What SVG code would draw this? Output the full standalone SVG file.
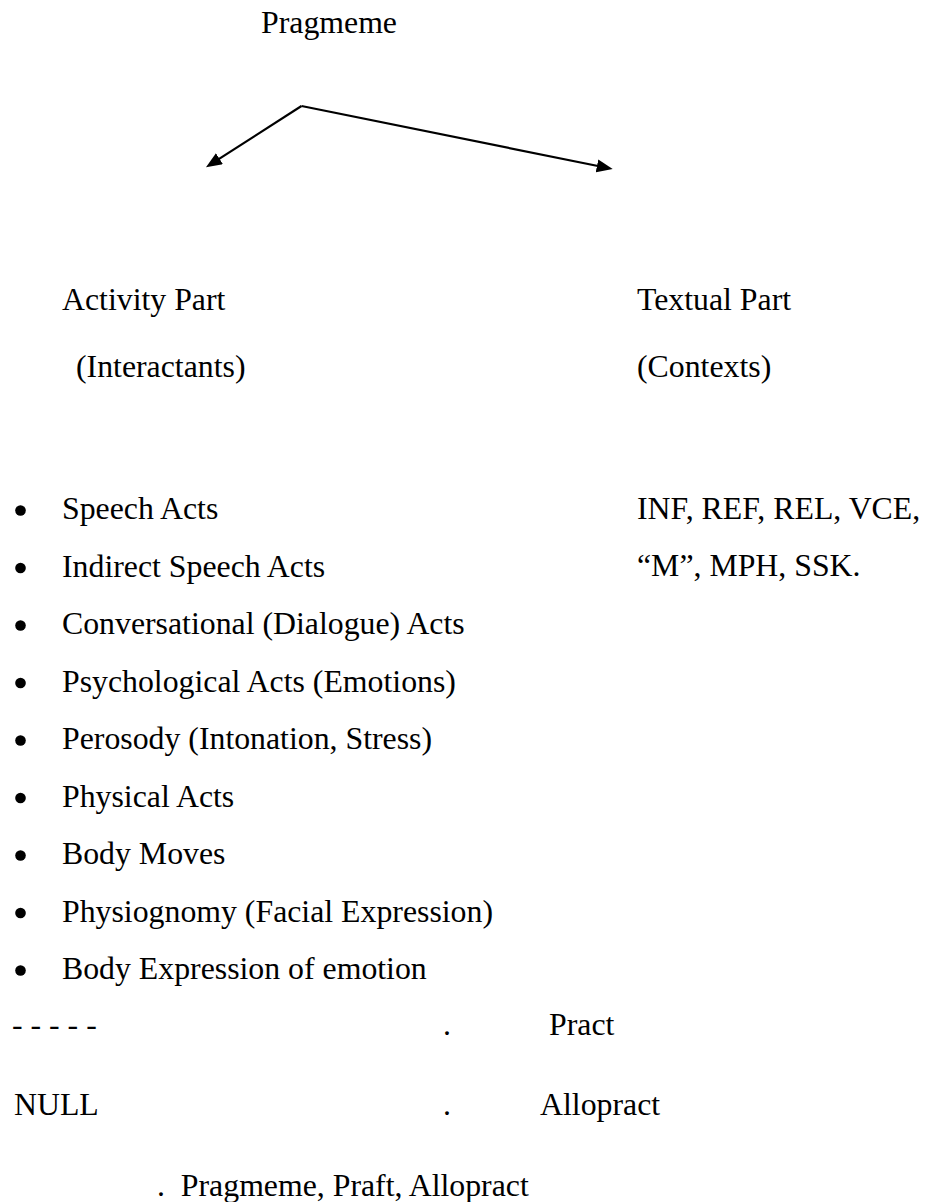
<svg xmlns="http://www.w3.org/2000/svg" width="928" height="1202" viewBox="0 0 928 1202">
<style>
text{font-family:"Liberation Serif","Times New Roman",serif;font-size:31.8px;fill:#000}
.c{stroke:#000;stroke-width:2.2;fill:none}
.b{fill:#000}
</style>
<defs>
<marker id="ah" markerUnits="userSpaceOnUse" markerWidth="18" markerHeight="14" refX="6" refY="6.5" orient="auto">
<path d="M0,0 L16,6.5 L0,13 z" fill="#000"/>
</marker>
</defs>
<rect width="928" height="1202" fill="#fff"/>
<g id="connectors">
<path class="c" d="M301.5,106 L214.4,161.9" marker-end="url(#ah)"/>
<path class="c" d="M301.5,106 L602.9,167" marker-end="url(#ah)"/>
</g>
<g id="pragmeme"><text x="261" y="33">Pragmeme</text></g>
<g id="activity-part">
<text x="62" y="310">Activity Part</text>
<text x="76" y="377">(Interactants)</text>
</g>
<g id="textual-part">
<text x="637" y="310">Textual Part</text>
<text x="637" y="377">(Contexts)</text>
</g>
<g id="activity-list">
<circle class="b" cx="20.5" cy="510.5" r="5.3"/><text x="62" y="519">Speech Acts</text>
<circle class="b" cx="20.5" cy="568" r="5.3"/><text x="62" y="576.5">Indirect Speech Acts</text>
<circle class="b" cx="20.5" cy="625.5" r="5.3"/><text x="62" y="634">Conversational (Dialogue) Acts</text>
<circle class="b" cx="20.5" cy="683" r="5.3"/><text x="62" y="691.5">Psychological Acts (Emotions)</text>
<circle class="b" cx="20.5" cy="740.5" r="5.3"/><text x="62" y="749">Perosody (Intonation, Stress)</text>
<circle class="b" cx="20.5" cy="798" r="5.3"/><text x="62" y="806.5">Physical Acts</text>
<circle class="b" cx="20.5" cy="855.5" r="5.3"/><text x="62" y="864">Body Moves</text>
<circle class="b" cx="20.5" cy="913" r="5.3"/><text x="62" y="921.5">Physiognomy (Facial Expression)</text>
<circle class="b" cx="20.5" cy="970.5" r="5.3"/><text x="62" y="979">Body Expression of emotion</text>
</g>
<g id="textual-list">
<text x="637" y="519">INF, REF, REL, VCE,</text>
<text x="637" y="575.5">“M”, MPH, SSK.</text>
</g>
<g id="pract">
<text x="12" y="1035">- - - - -</text>
<text x="443" y="1035">.</text>
<text x="549" y="1035">Pract</text>
</g>
<g id="allopract">
<text x="14" y="1115">NULL</text>
<text x="443" y="1115">.</text>
<text x="540" y="1115">Allopract</text>
</g>
<g id="summary">
<text x="157" y="1196" xml:space="preserve">.  Pragmeme, Praft, Allopract</text>
</g>
</svg>
